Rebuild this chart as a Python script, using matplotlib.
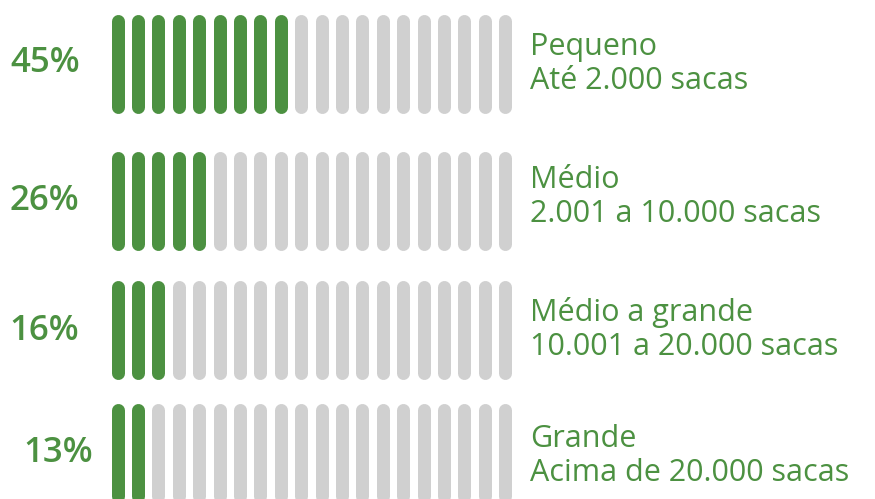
import matplotlib.pyplot as plt

# shares per farm size and how many of the 20 pills are filled
shares = ["45%", "26%", "16%", "13%"]
filled = [9, 5, 3, 2]
titles = ["Pequeno", "Médio", "Médio a grande", "Grande"]
ranges = ["Até 2.000 sacas", "2.001 a 10.000 sacas",
          "10.001 a 20.000 sacas", "Acima de 20.000 sacas"]
n_pills = 20

green = "#4c9141"
grey = "#d0d0d0"

# layout in pixel coordinates
row_top = [14, 151, 280, 403]
bar_len = 99
pct_x = [45, 44, 44, 58]
pct_base = [72, 210, 340, 462]
title_base = [55, 188, 321, 447]
x0, pitch, lw_px = 117.5, 20.4, 13

fig = plt.figure(figsize=(8.75, 4.99), dpi=100)
ax = fig.add_axes([0, 0, 1, 1])
ax.set_xlim(0, 875)
ax.set_ylim(499, 0)
ax.axis("off")

lw = lw_px * 72 / 100
for r in range(len(shares)):
    top = row_top[r] + lw_px / 2
    bot = row_top[r] + bar_len - lw_px / 2
    for i in range(n_pills):
        x = x0 + i * pitch
        c = green if i < filled[r] else grey
        ax.plot([x, x], [top, bot], color=c, lw=lw, solid_capstyle="round")
    ax.text(pct_x[r], pct_base[r], shares[r], color=green, fontsize=25,
            fontweight="semibold", family="Open Sans", ha="center", va="baseline")
    ax.text(530, title_base[r], titles[r], color=green, fontsize=22,
            family="Open Sans", ha="left", va="baseline")
    ax.text(530, title_base[r] + 34, ranges[r], color=green, fontsize=22,
            family="Open Sans", ha="left", va="baseline")

fig.savefig("out.png", dpi=100)
